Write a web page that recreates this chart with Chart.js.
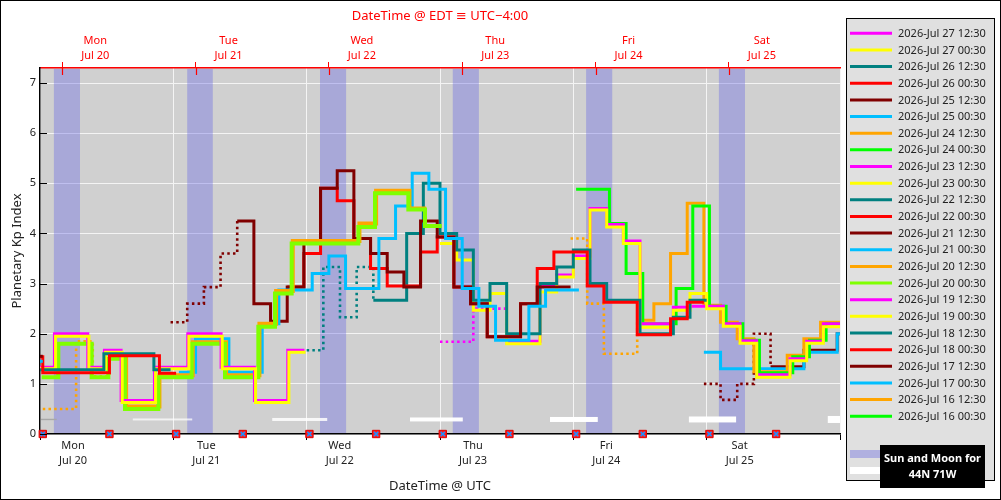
<!DOCTYPE html>
<html lang="en">
<head>
<meta charset="UTF-8">
<title>Planetary Kp Index forecasts</title>
<script src="https://cdn.jsdelivr.net/npm/chart.js@4.4.0/dist/chart.umd.min.js"></script>
<style>
  html, body { margin: 0; padding: 0; background: #fff; }
  #wrap { width: 1001px; height: 500px; }
</style>
</head>
<body>
<div id="wrap"><canvas id="kpChart" width="1001" height="500"></canvas></div>
<script>
// x values are hours since 2026-Jul 20 00:00 UTC, Kp in 3-hour steps

const utcTickHours = [0, 24, 48, 72, 96, 120, 144];
const utcDayLabels = [['Mon', 'Jul 20'], ['Tue', 'Jul 21'], ['Wed', 'Jul 22'], ['Thu', 'Jul 23'], ['Fri', 'Jul 24'], ['Sat', 'Jul 25'], ''];
const edtTickHours = [4, 28, 52, 76, 100, 124];
const edtDayLabels = [['Mon', 'Jul 20'], ['Tue', 'Jul 21'], ['Wed', 'Jul 22'], ['Thu', 'Jul 23'], ['Fri', 'Jul 24'], ['Sat', 'Jul 25']];

// forecast issue times (markers on the x axis)
const issueHours = [0.5, 12.5, 24.5, 36.5, 48.5, 60.5, 72.5, 84.5, 96.5, 108.5, 120.5, 132.5];

// sun below horizon and moon up, 44N 71W
const nightStart = [2.5, 26.5, 50.4, 74.3, 98.3, 122.2];
const nightEnd = [7.2, 31.1, 55.1, 79.0, 103.0, 126.9];
const moonRise = [0, 16.7, 41.8, 66.6, 91.8, 116.8, 141.8];
const moonSet = [3.0, 27.4, 51.7, 76.1, 100.4, 125.3, 144];
const moonLit = [0.05, 0.12, 0.25, 0.37, 0.5, 0.62, 0.75];

// estimated (dotted) and forecast (solid) Kp per issue
const kp0717a = [1.45];
const kp0717b = [1.55];
const kp0718a = [1.54, 1.22, 1.22, 1.22, 1.22, 1.56, 1.56, 1.56, 1.21];
const kp0718b = [1.28, 1.28, 1.28, 1.28, 1.6, 1.6, 1.6, 1.28];
const kp0719a = [1.3, 1.95, 1.95, 1.3, 1.63, 0.63, 0.63, 1.3, 1.3, 1.95, 1.95, 1.3, 1.3, 0.63, 0.63, 1.63];
const kp0719b = [1.33, 2.0, 2.0, 1.33, 1.67, 0.67, 0.67, 1.33, 1.33, 2.0, 2.0, 1.33, 1.33, 0.67, 0.67, 1.67];
const kp0720a = [1.13, 1.8, 1.8, 1.13, 1.5, 0.5, 0.5, 1.13, 1.13, 1.8, 1.8, 1.13, 1.13, 2.14, 2.8, 3.8, 3.8, 3.8, 3.8, 4.13, 4.8, 4.8, 4.48, 4.15];
const est0720b = [0.5, 0.5, 1.85, 1.15];
const kp0720b = [1.55, 0.55, 0.55, 1.17, 1.17, 1.83, 1.83, 1.17, 1.17, 2.2, 2.85, 3.85, 3.85, 3.85, 3.85, 4.2, 4.85, 4.85, 4.5];
const kp0721a = [1.23, 1.9, 1.9, 1.23, 1.23, 2.2, 2.87, 2.87, 3.2, 3.55, 2.9, 2.9, 3.9, 4.55, 5.2, 4.88, 3.9, 2.9, 2.55, 1.87, 1.87, 2.55, 2.87, 2.87];
const est0721b = [2.23, 2.6, 2.93, 3.6];
const kp0721b = [4.25, 2.6, 2.25, 2.93, 3.8, 4.9, 5.25, 3.9, 3.6, 3.23, 2.93, 4.25, 3.93, 2.93, 2.6, 1.94, 1.94, 2.6, 2.93, 2.93];
const kp0722a = [2.93, 3.6, 4.9, 4.65, 3.9, 3.3, 2.95, 2.95, 3.63, 3.93, 2.93, 2.6, 1.94, 1.94, 2.6, 3.3, 3.63, 3.63, 2.95, 2.63, 2.63, 1.98, 1.98, 2.3, 2.63];
const est0722b = [1.67, 3.33, 2.33, 3.33];
const kp0722b = [2.67, 2.67, 4.0, 5.0, 4.0, 3.67, 2.67, 3.0, 2.0, 2.0, 3.0, 3.33, 3.67, 3.0, 2.67, 2.67, 2.0, 2.0, 2.33, 2.67];
const kp0723a = [3.8, 3.47, 2.47, 2.8, 1.8, 1.8, 2.83, 3.13, 3.5, 4.47, 4.13, 3.8, 2.13, 2.13, 2.47, 2.8, 2.5, 2.15, 1.81, 1.13, 1.13, 1.46, 1.81, 2.14];
const est0723b = [1.84, 1.84, 2.5, 2.5];
const kp0723b = [1.85, 1.85, 2.95, 3.17, 3.55, 4.5, 4.18, 3.85, 2.2, 2.2, 2.53, 2.55, 2.55, 2.2, 1.86, 1.18, 1.18, 1.5, 1.85, 2.2];
const kp0724a = [4.88, 4.88, 4.2, 3.2, 2.2, 2.2, 2.9, 4.55, 2.55, 2.2, 1.87, 1.22, 1.22, 1.54, 1.87, 2.2];
const est0724b = [3.9, 2.6, 1.6, 1.6];
const kp0724b = [2.27, 2.6, 3.6, 4.6, 2.57, 2.23, 1.9, 1.24, 1.24, 1.57, 1.9, 2.23, 2.23];
const kp0725a = [1.63, 1.3, 1.3, 1.3, 1.3, 1.3, 1.63, 1.63, 2.0];
const est0725b = [1.0, 0.68, 1.0, 2.0];
const kp0725b = [1.34, 1.34, 1.67, 1.67, 2.0];

// label, colour, first hour, estimated, forecast  (oldest first)
const runs = [
  ['2026-Jul 16 00:30', '#00ff00', 0, [], []],
  ['2026-Jul 16 12:30', '#ffa500', 0, [], []],
  ['2026-Jul 17 00:30', '#00bfff', -2.5, [], kp0717a],
  ['2026-Jul 17 12:30', '#800000', -2.5, [], kp0717b],
  ['2026-Jul 18 00:30', '#ff0000', -2.5, [], kp0718a],
  ['2026-Jul 18 12:30', '#008080', -0.5, [], kp0718b],
  ['2026-Jul 19 00:30', '#ffff00', -0.2, [], kp0719a],
  ['2026-Jul 19 12:30', '#ff00ff', -0.4, [], kp0719b],
  ['2026-Jul 20 00:30', '#7fff00', 0.3, [], kp0720a],
  ['2026-Jul 20 12:30', '#ffa500', 0.5, est0720b, kp0720b],
  ['2026-Jul 21 00:30', '#00bfff', 25, [], kp0721a],
  ['2026-Jul 21 12:30', '#800000', 23.5, est0721b, kp0721b],
  ['2026-Jul 22 00:30', '#ff0000', 44.5, [], kp0722a],
  ['2026-Jul 22 12:30', '#008080', 48, est0722b, kp0722b],
  ['2026-Jul 23 00:30', '#ffff00', 72, [], kp0723a],
  ['2026-Jul 23 12:30', '#ff00ff', 72, est0723b, kp0723b],
  ['2026-Jul 24 00:30', '#00ff00', 96.5, [], kp0724a],
  ['2026-Jul 24 12:30', '#ffa500', 95.5, est0724b, kp0724b],
  ['2026-Jul 25 00:30', '#00bfff', 119.5, [], kp0725a],
  ['2026-Jul 25 12:30', '#800000', 119.5, est0725b, kp0725b],
  ['2026-Jul 26 00:30', '#ff0000', 0, [], []],
  ['2026-Jul 26 12:30', '#008080', 0, [], []],
  ['2026-Jul 27 00:30', '#ffff00', 0, [], []],
  ['2026-Jul 27 12:30', '#ff00ff', 0, [], []]
];

const FONT = "'Noto Sans', 'DejaVu Sans', sans-serif";
Chart.defaults.font.family = FONT;

function stepPoints(start, est, kp) {
  const vals = est.concat(kp);
  const pts = vals.map((v, i) => ({ x: start + 3 * i, y: v }));
  if (vals.length) pts.push({ x: start + 3 * vals.length, y: vals[vals.length - 1] });
  return pts;
}

const datasets = [];
datasets.push({
  label: 'issue', data: issueHours.map(h => ({ x: h, y: 0 })),
  showLine: false, pointStyle: 'rect', pointRadius: 5.2,
  pointBackgroundColor: '#ff1a1a', pointBorderColor: '#e00000', pointBorderWidth: 1,
  clip: false, order: -2
});
datasets.push({
  label: 'issue-x', data: issueHours.map(h => ({ x: h, y: 0 })),
  showLine: false, pointStyle: 'crossRot', pointRadius: 3,
  pointBorderColor: '#1e90ff', pointBorderWidth: 1.5,
  clip: false, order: -3
});

runs.forEach(r => {
  const nEst = r[3].length;
  const thick = (r[0] === '2026-Jul 20 00:30' || r[0] === '2026-Jul 20 12:30') ? 4 : 3;
  datasets.push({
    label: r[0],
    data: stepPoints(r[2], r[3], r[4]),
    borderColor: r[1],
    borderWidth: thick,
    stepped: true,
    pointRadius: 0,
    fill: false,
    clip: 0,
    borderJoinStyle: 'miter',
    segment: {
      borderDash: c => c.p0DataIndex < nEst ? [2.5, 3.2] : undefined,
      borderWidth: c => c.p0DataIndex < nEst ? 2.6 : thick
    }
  });
});

const skyPlugin = {
  id: 'sky',
  beforeDraw(chart) {
    const { ctx, chartArea: a } = chart;
    ctx.save();
    ctx.fillStyle = '#fff';
    ctx.fillRect(0, 0, chart.width, chart.height);
    ctx.fillStyle = '#d0d0d0';
    ctx.fillRect(a.left, a.top, a.right - a.left, a.bottom - a.top);
    ctx.restore();
  },
  beforeDatasetsDraw(chart) {
    const { ctx, chartArea: a, scales } = chart;
    const x = scales.x, y = scales.y;
    ctx.save();
    ctx.fillStyle = 'rgba(100,100,230,0.37)';
    nightStart.forEach((s, i) => {
      const x0 = x.getPixelForValue(s), x1 = x.getPixelForValue(nightEnd[i]);
      ctx.fillRect(x0, a.top + 1, x1 - x0, a.bottom - a.top - 2);
    });
    const yMoon = y.getPixelForValue(0.29);
    moonRise.forEach((s, i) => {
      const x0 = Math.max(a.left + 1, x.getPixelForValue(s));
      const x1 = Math.min(a.right, x.getPixelForValue(moonSet[i]));
      const w = 1 + 8 * moonLit[i];
      ctx.fillStyle = moonLit[i] < 0.1 ? '#a8a8a8' : 'rgba(255,255,255,' + Math.min(1, 0.6 + moonLit[i]) + ')';
      ctx.fillRect(x0, yMoon - w / 2, x1 - x0, w);
    });
    ctx.restore();
  },
  afterDraw(chart) {
    const { ctx, chartArea: a, scales } = chart;
    ctx.save();
    // inward tick marks
    ctx.strokeStyle = '#000';
    ctx.lineWidth = 1;
    scales.y.ticks.forEach(t => {
      const py = Math.round(scales.y.getPixelForValue(t.value)) + 0.5;
      ctx.beginPath(); ctx.moveTo(a.left, py); ctx.lineTo(a.left + 7, py); ctx.stroke();
    });
    ctx.strokeStyle = '#ff0000';
    ctx.lineWidth = 1.2;
    edtTickHours.forEach(h => {
      const px = Math.round(scales.x2.getPixelForValue(h)) + 0.5;
      ctx.beginPath(); ctx.moveTo(px, a.top); ctx.lineTo(px, a.top + 7); ctx.stroke();
    });

    // legend
    ctx.fillStyle = '#e0e0e0';
    ctx.fillRect(846, 18, 148, 462);
    ctx.strokeStyle = '#000';
    ctx.lineWidth = 1;
    ctx.strokeRect(846.5, 18.5, 148, 462);
    ctx.font = '11px ' + FONT;
    ctx.textBaseline = 'middle';
    ctx.textAlign = 'left';
    const items = runs.slice().reverse();
    items.forEach((r, i) => {
      const ly = 33.3 + i * 16.65;
      ctx.strokeStyle = r[1];
      ctx.lineWidth = 3;
      ctx.beginPath(); ctx.moveTo(850, ly); ctx.lineTo(892, ly); ctx.stroke();
      ctx.fillStyle = '#222';
      ctx.fillText(r[0], 898, ly + 0.5);
    });
    ctx.fillStyle = '#b0b0e0';
    ctx.fillRect(850, 450, 40, 8);
    ctx.fillStyle = '#fff';
    ctx.fillRect(850, 467, 40, 7);
    ctx.fillStyle = '#000';
    ctx.fillRect(880, 445, 105, 43);
    ctx.fillStyle = '#fff';
    ctx.font = 'bold 11px ' + FONT;
    ctx.textAlign = 'center';
    ctx.fillText('Sun and Moon for', 932.5, 459);
    ctx.fillText('44N 71W', 932.5, 475);

    // frame
    ctx.strokeStyle = '#000';
    ctx.lineWidth = 1;
    ctx.strokeRect(0.5, 0.5, chart.width - 1, chart.height - 1);
    ctx.restore();
  }
};

new Chart(document.getElementById('kpChart'), {
  type: 'line',
  data: { datasets: datasets },
  options: {
    responsive: false,
    devicePixelRatio: 1,
    animation: false,
    events: [],
    layout: { padding: { top: 4, left: 2, right: 161, bottom: 4 } },
    plugins: { legend: { display: false }, tooltip: { enabled: false } },
    scales: {
      x: {
        type: 'linear', position: 'bottom', min: 0, max: 144,
        afterBuildTicks: s => { s.ticks = utcTickHours.map(v => ({ value: v })); },
        afterFit: s => { s.height = 62; },
        ticks: {
          callback: (v, i) => utcDayLabels[i],
          labelOffset: 33, maxRotation: 0, autoSkip: false, padding: -2,
          color: '#222', font: { size: 11, lineHeight: 1.4 }
        },
        grid: { color: '#f4f4f4', lineWidth: 1, tickColor: '#000', tickLength: 6 },
        border: { color: '#000', width: 1.5 },
        title: { display: true, text: 'DateTime @ UTC', color: '#222', font: { size: 13 }, padding: { top: 0, bottom: 2 } }
      },
      x2: {
        type: 'linear', position: 'top', min: 0, max: 144,
        afterBuildTicks: s => { s.ticks = edtTickHours.map(v => ({ value: v })); },
        afterFit: s => { s.height = 64; },
        ticks: {
          callback: (v, i) => edtDayLabels[i],
          labelOffset: 33, maxRotation: 0, autoSkip: false, padding: -2,
          color: '#ff0000', font: { size: 11, lineHeight: 1.4 }
        },
        grid: { drawOnChartArea: false, color: '#ff0000', tickLength: 6 },
        border: { color: '#ff0000', width: 1.5 },
        title: { display: true, text: 'DateTime @ EDT \u2261 UTC\u22124:00', color: '#ff0000', font: { size: 13 }, padding: { top: 4, bottom: 0 } }
      },
      y: {
        min: 0, max: 7.3,
        afterBuildTicks: s => { s.ticks = [0, 1, 2, 3, 4, 5, 6, 7].map(v => ({ value: v })); },
        afterFit: s => { s.width = 38; },
        ticks: { color: '#222', font: { size: 11 }, padding: 4 },
        grid: { color: '#f4f4f4', lineWidth: 1, drawTicks: false },
        border: { color: '#000', width: 1.5 },
        title: { display: true, text: 'Planetary Kp Index', color: '#222', font: { size: 13 }, padding: { top: 7, bottom: 0 } }
      }
    }
  },
  plugins: [skyPlugin]
});
</script>
</body>
</html>
